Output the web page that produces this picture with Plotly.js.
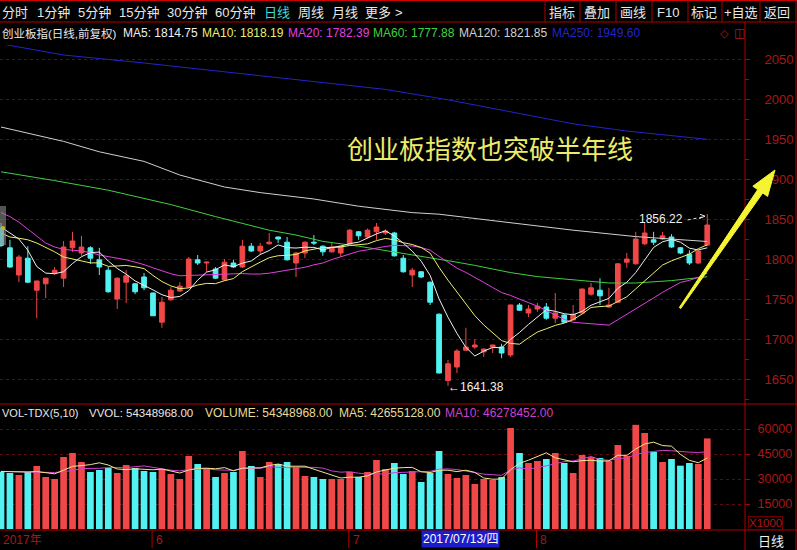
<!DOCTYPE html>
<html>
<head>
<meta charset="utf-8">
<script src="https://cdn.plot.ly/plotly-3.0.1.min.js"></script>
<style>
html,body{margin:0;padding:0;background:#000;overflow:hidden;}
#chart{width:797px;height:550px;}
</style>
</head>
<body>
<div id="chart"></div>
<script>
// ---------------- data ----------------
const opens = [1839,1814,1780,1801,1761,1769,1782.5,1776,1814,1807.5,
 1814,1799,1786,1750,1771,1769,1777.5,1757.5,1721,1749,
 1760,1765,1799,1795,1787.5,1774,1795,1790,1816,1810,
 1819,1827.5,1821,1795,1807.5,1821,1816,1809,1807.5,1819,
 1834,1827.5,1834,1832.5,1832.5,1801,1780,1784,1771,1731,
 1648,1665,1686,1690,1684,1690,1690,1680,1742.5,1732.5,
 1737.5,1740,1726,1730,1724,1732.5,1756,1761,1740,1746,
 1796,1794,1819,1824,1825,1827.5,1814,1806,1795,1817.5];
const highs = [1845,1824,1805,1816,1773,1776,1790,1822.5,1834,1829,
 1816,1814,1790,1777,1786,1770,1782.5,1758,1752.5,1765,
 1771,1802.5,1805,1797,1790,1800,1799,1824,1820,1820,
 1832.5,1828,1827.5,1809,1822,1830,1817,1820,1817,1837.5,
 1835,1838,1845,1837,1834,1805,1789,1785,1772,1732,
 1674,1687.5,1714,1700,1688,1693,1694,1743,1745,1742.5,
 1745,1745,1757.5,1731,1742.5,1763,1770,1776,1764,1795,
 1807.5,1834,1845,1834,1834,1831,1815,1811,1811,1856.22];
const lows = [1815,1789,1771,1770,1726,1751,1780,1765,1809,1804,
 1794,1780,1758,1737.5,1745,1756,1761,1729,1714,1748,
 1759,1764,1792.5,1784,1775,1773,1789,1789,1809,1805,
 1818,1820,1798,1777.5,1801,1817.5,1804,1808,1802.5,1818,
 1824,1826,1824,1830,1803,1783,1765,1776,1742.5,1657,
 1641.38,1657.5,1685,1687.5,1677.5,1682.5,1676,1677.5,1735,1727.5,
 1734,1724,1720,1720,1723,1732,1754,1742.5,1739,1745,
 1789,1793,1817.5,1817.5,1824,1814,1806,1792.5,1794,1816];
const closes = [1817,1790,1802.5,1771,1772.5,1776,1786,1815,1822.5,1815,
 1801,1790,1759,1776,1779,1759,1764,1729,1746,1761,
 1766,1800,1795,1796,1776,1796,1790,1816,1810,1816,
 1821,1825,1799,1807.5,1821,1820,1809,1815,1816,1836,
 1829,1836,1840,1835,1804,1784,1786,1777.5,1746,1657.5,
 1669,1685,1690,1692.5,1687.5,1692.5,1682.5,1742.5,1736,1737.5,
 1741,1726,1732.5,1721,1731,1762.5,1764,1754,1742.5,1794,
 1800,1825,1832.5,1821,1829,1815,1807.5,1795,1810,1842.5];
// volume, x1000
const volumes = [34380,33600,32400,34200,37800,31200,30000,43200,45600,40200,
 34200,35400,36600,33600,38400,36600,34800,34200,36000,33000,
 30000,43800,39000,36600,31200,33600,34200,46800,37800,31200,
 40200,39000,40200,37200,31800,31200,30000,30000,30000,34200,
 31200,34200,41400,36000,39600,33000,34800,28200,33600,46800,
 33000,30600,32400,27000,30000,29400,31200,60600,45600,39600,
 40800,42000,45600,39600,33600,44400,43200,42600,40800,50400,
 43800,62500,57600,46200,40200,42000,38000,39600,39000,54349];

// moving-average values before the window is full
const ma5Lead  = [1840,1832.5,1825,1811];
const ma10Lead = [1832.5,1827.5,1826,1824,1820,1815,1809,1802.5,1800];
const ma20Lead = [1858,1853,1846,1837,1829,1820,1815,1812,1811,1810,
                  1808,1805,1803,1801,1799,1796,1793,1789,1785];
const vma5Lead  = [34500,34300,34000,34200];
const vma10Lead = [34600,34400,34200,34100,34200,34000,33900,34400,35000];

// long moving averages (index : value)
const ma60Idx  = [0,6,12,16,19,24,30,33,36,40,44,48,51,53,57,60,64,68,71,75,79];
const ma60Val  = [1909,1898,1886,1876,1868,1853,1836,1830,1822,1816,1809,1802,1796,1792,1783,1778,1774,1770,1770,1773,1777.88];
const ma120Idx = [0,3,7,11,16,20,25,29,35,40,46,49,57,64,71,75,79];
const ma120Val = [1965,1957,1947,1934,1922,1905,1890,1883,1875,1866,1858,1856,1845,1836,1828,1825,1821.85];
const ma250Idx = [0,7,16,20,27,35,43,50,57,64,70,79];
const ma250Val = [2069,2055,2045,2040,2032,2022,2012,1999,1984,1969,1960,1949.6];

const priceTicks = [1650,1700,1750,1800,1850,1900,1950,2000,2050];
const volTicks   = [15000,30000,45000,60000];
const monthTickIdx    = [0,17,39,60];
const monthTickLabels = ['2017年','6','7','8'];
const cursorIdx = 47, cursorLabel = '2017/07/13/四';
const menuLabels  = ['分时','1分钟','5分钟','15分钟','30分钟','60分钟','日线','周线','月线','更多','>'];
const buttonLabels = ['指标','叠加','画线','F10','标记','+自选','返回'];
const headText = '创业板指(日线,前复权)';
const maNames = ['MA5','MA10','MA20','MA60','MA120','MA250'];
const maLast  = ['1814.75','1818.19','1782.39','1777.88','1821.85','1949.60'];
const volHead = ['VOL-TDX(5,10)','VVOL: 54348968.00','VOLUME: 54348968.00','MA5: 42655128.00','MA10: 46278452.00'];
const title = '创业板指数也突破半年线';
const hiLabel = '1856.22', loLabel = '←1641.38';

// ---------------- helpers ----------------
const W = 797, H = 550;
const px = x => x / W, py = y => 1 - y / H;
const idx = closes.map((_, i) => i);
function rolling(vals, n, lead) {
  return vals.map((v, i) => {
    if (i < n - 1) return lead[i];
    let s = 0; for (let k = i - n + 1; k <= i; k++) s += vals[k];
    return s / n;
  });
}
const ma5 = rolling(closes, 5, ma5Lead);
const ma10 = rolling(closes, 10, ma10Lead);
const ma20 = rolling(closes, 20, ma20Lead);
const vma5 = rolling(volumes, 5, vma5Lead);
const vma10 = rolling(volumes, 10, vma10Lead);

const RED = '#f04848', CYAN = '#52f2f2';
const C_MA5 = '#f0f0f0', C_MA10 = '#eeee70', C_MA20 = '#e040e0', C_MA60 = '#40d040', C_MA120 = '#d0d0d0', C_MA250 = '#2424c8';
const AXRED = '#a81818', LINERED = '#b00000';
const FONT = 'Liberation Sans, Arial, Noto Sans CJK SC, sans-serif';
const CJK = 'Noto Sans CJK SC, Liberation Sans, sans-serif';

function line(x, y, color, yaxis) {
  return {type:'scatter', mode:'lines', x, y, xaxis:'x', yaxis: yaxis || 'y',
          line:{color, width:1}, hoverinfo:'skip'};
}

const traces = [
  {type:'candlestick', x: idx, open: opens, high: highs, low: lows, close: closes,
   xaxis:'x', yaxis:'y', whiskerwidth:0, hoverinfo:'skip',
   increasing:{line:{color:RED, width:1}, fillcolor:RED},
   decreasing:{line:{color:CYAN, width:1}, fillcolor:CYAN}},
  line(ma250Idx, ma250Val, C_MA250),
  line(ma120Idx, ma120Val, C_MA120),
  line(ma60Idx, ma60Val, C_MA60),
  line(idx, ma20, C_MA20),
  line(idx, ma10, C_MA10),
  line(idx, ma5, C_MA5),
  {type:'bar', x: idx, y: volumes, xaxis:'x', yaxis:'y2', width:0.75,
   marker:{color: volumes.map((v, i) => closes[i] >= opens[i] ? RED : CYAN), line:{width:0}},
   hoverinfo:'skip'},
  line(idx, vma10, '#d040d0', 'y2'),
  line(idx, vma5, '#f0e890', 'y2')
];

// ---------------- annotations ----------------
const ann = [];
function txt(text, x, y, color, size, anchor, extra) {
  ann.push(Object.assign({text, x: px(x), y: py(y), xref:'paper', yref:'paper',
    xanchor: anchor || 'left', yanchor:'middle', showarrow:false,
    font:{family: FONT, size, color}}, extra || {}));
}
// top menu
const menuX = [0,35,76,117,165,213,262,296,330,363,393];
menuLabels.forEach((t, i) => txt(t, menuX[i], 12, t === '日线' ? '#40d8d8' : '#e8e8e8', 13));
const btnX = [562,597,633,668,704,741,777];
buttonLabels.forEach((t, i) => txt(t, btnX[i], 12, '#e8e8e8', 13, 'center'));
// info row
txt(headText, 0, 33, '#e8e8e8', 11.5);
const maX = [121,200,286,371,457,550];
const maCol = [C_MA5, C_MA10, C_MA20, C_MA60, C_MA120, C_MA250];
maNames.forEach((n, i) => txt(n + ': ' + maLast[i], maX[i], 33, maCol[i], 12));
txt('◇', 718, 33, '#a02020', 11, 'left', {font:{family:'DejaVu Sans', size:11, color:'#a02020'}});
txt('◫', 732, 33, '#a02020', 12, 'left', {font:{family:'DejaVu Sans', size:12, color:'#a02020'}});
// volume header
const vhX = [0,87,203,337,443];
const vhSize = [11,11.5,12,12,12];
const vhCol = ['#e8e8e8','#e8e8e8','#eadc96','#eadc96','#d040d0'];
volHead.forEach((t, i) => txt(t, vhX[i], 413, vhCol[i], vhSize[i]));
// big title
txt(title, 345, 148, '#ecec6a', 26, 'left', {font:{family: CJK, size:26, color:'#ecec6a'}});
// X1000
txt('X1000', 765, 523, AXRED, 11.5, 'center', {bordercolor:'#700000', borderwidth:1, borderpad:0});
// bottom bar
monthTickIdx.forEach((m, i) => ann.push({text: monthTickLabels[i], x: m, y: py(540), xref:'x', yref:'paper',
  xanchor:'left', yanchor:'middle', xshift: i === 0 ? 0 : 1, showarrow:false,
  font:{family: FONT, size:12, color: AXRED}}));
ann.push({text: cursorLabel, x: cursorIdx, y: py(539), xref:'x', yref:'paper', xanchor:'left', yanchor:'middle',
  showarrow:false, bgcolor:'#1c1cc8', borderpad:1, font:{family: FONT, size:12, color:'#ffffff'}});
txt('日线', 771, 540, '#f0f0f0', 13, 'center', {font:{family: CJK, size:13, color:'#f0f0f0'}});
// extreme labels
ann.push({text: hiLabel, x: 79, y: highs[79], xref:'x', yref:'y', xanchor:'right', yanchor:'middle',
  xshift:-22, yshift:-5, showarrow:false, font:{family: FONT, size:12, color:'#f0f0f0'}});
ann.push({text: loLabel, x: 50, y: lows[50], xref:'x', yref:'y', xanchor:'left', yanchor:'middle',
  xshift:-2, yshift:-1, showarrow:false, font:{family: FONT, size:12, color:'#f0f0f0'}});

// ---------------- shapes ----------------
const shapes = [];
function pline(x0, y0, x1, y1, color, width) {
  shapes.push({type:'line', xref:'paper', yref:'paper', x0: px(x0), y0: py(y0), x1: px(x1), y1: py(y1),
    line:{color: color || LINERED, width: width || 1}});
}
pline(0, 0.5, W, 0.5, '#d00000', 1);
pline(0, 22, W, 22);
[545,580,616,652,688,722,760].forEach(x => pline(x, 0, x, 22));
pline(745, 22, 745, 550);
pline(796, 0, 796, 550);
pline(0, 404, W, 404);
pline(0, 530, W, 530);
monthTickIdx.slice(1).forEach(m => shapes.push({type:'line', xref:'x', yref:'paper', x0: m - 0.1, x1: m - 0.1,
  y0: py(530), y1: py(548), line:{color: LINERED, width:1}}));
// gray history marker on the left
shapes.push({type:'rect', xref:'paper', yref:'paper', x0: px(0), x1: px(6), y0: py(245), y1: py(206),
  fillcolor:'rgba(140,140,140,0.6)', line:{width:0}});
shapes.push({type:'circle', xref:'paper', yref:'paper', x0: px(1), x1: px(5), y0: py(230), y1: py(226),
  fillcolor:'#d8b020', line:{width:0}});
// dashed pointer to the high
shapes.push({type:'line', xref:'x', yref:'y', x0: 76.8, y0: highs[79] - 7.4, x1: 78.6, y1: highs[79] - 3.5,
  line:{color:'#f0f0f0', width:1, dash:'3px,3px'}});
shapes.push({type:'path', xref:'x', yref:'y',
  path: `M ${78.2} ${highs[79] - 0.4} L ${78.75} ${highs[79] - 2.7} L ${78.1} ${highs[79] - 5.7}`,
  line:{color:'#f0f0f0', width:1}});
// big yellow arrow (tapered)
const arrowPts = [[679.3,307.5],[757.7,189.6],[752.8,186.2],[775,170],[767.6,196.4],[762.7,193.0],[680.7,308.5]];
shapes.push({type:'path', xref:'paper', yref:'paper',
  path: 'M ' + arrowPts.map(p => px(p[0]) + ' ' + py(p[1])).join(' L ') + ' Z',
  fillcolor:'#f4f432', line:{color:'#f4f432', width:1}});

// ---------------- layout ----------------
const layout = {
  width: W, height: H, margin:{l:0, r:0, t:0, b:0},
  paper_bgcolor:'#000000', plot_bgcolor:'#000000', showlegend:false,
  boxgap:0.25,
  xaxis:{domain:[0, px(744)], range:[-0.112, 83.11], anchor:'y2', showgrid:false, zeroline:false,
         showticklabels:false, ticks:'', rangeslider:{visible:false}, fixedrange:true, showline:false},
  yaxis:{domain:[py(403), py(45)], range:[1620, 2067.5], side:'right', anchor:'x',
         tickmode:'array', tickvals: priceTicks, ticktext: priceTicks.map(String),
         showgrid:true, gridcolor:'#5a0c0c', griddash:'dot', gridwidth:1, zeroline:false, showline:false,
         ticks:'outside', ticklen:5, tickcolor: LINERED, ticklabelstandoff:12,
         tickfont:{family: FONT, size:13, color: AXRED},
         minor:{ticks:'outside', ticklen:4, tick0:1625, dtick:50, tickcolor: LINERED, showgrid:false},
         fixedrange:true},
  yaxis2:{domain:[py(529), py(405)], range:[0, 74400], side:'right', anchor:'x',
         tickmode:'array', tickvals: volTicks, ticktext: volTicks.map(String),
         showgrid:true, gridcolor:'#5a0c0c', griddash:'dot', gridwidth:1, zeroline:false, showline:false,
         ticks:'outside', ticklen:5, tickcolor: LINERED, ticklabelstandoff:5,
         tickfont:{family: FONT, size:12.5, color: AXRED}, fixedrange:true},
  annotations: ann,
  shapes: shapes
};

Plotly.newPlot('chart', traces, layout, {displayModeBar:false, staticPlot:true});
</script>
</body>
</html>
